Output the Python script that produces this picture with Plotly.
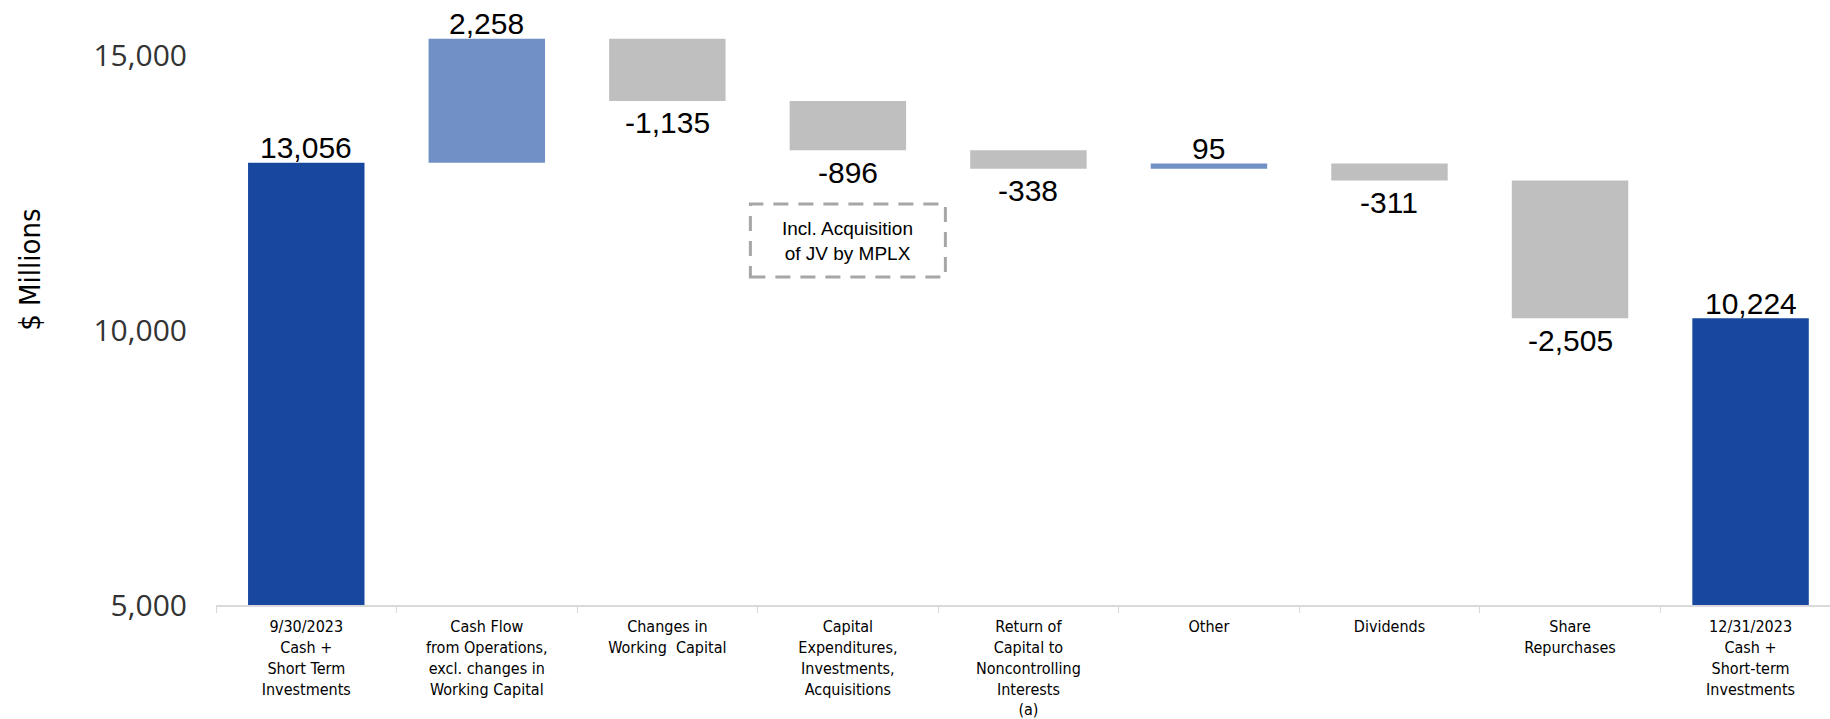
import plotly.graph_objects as go

# Cash bridge, Q4 2023 ($ millions)
categories = [
    "9/30/2023<br>Cash +<br>Short Term<br>Investments",
    "Cash Flow<br>from Operations,<br>excl. changes in<br>Working Capital",
    "Changes in<br>Working  Capital",
    "Capital<br>Expenditures,<br>Investments,<br>Acquisitions",
    "Return of<br>Capital to<br>Noncontrolling<br>Interests<br>(a)",
    "Other",
    "Dividends",
    "Share<br>Repurchases",
    "12/31/2023<br>Cash +<br>Short-term<br>Investments",
]
values = [13056, 2258, -1135, -896, -338, 95, -311, -2505, 10224]
measures = ["absolute", "relative", "relative", "relative", "relative",
            "relative", "relative", "relative", "total"]
value_labels = ["13,056", "2,258", "-1,135", "-896", "-338", "95", "-311", "-2,505", "10,224"]

TOTAL_BLUE = "#17479E"
UP_BLUE = "#7191C6"
DOWN_GREY = "#BFBFBF"

fig = go.Figure(go.Waterfall(
    x=categories,
    y=values,
    measure=measures,
    connector=dict(visible=False),
    increasing=dict(marker=dict(color=UP_BLUE)),
    decreasing=dict(marker=dict(color=DOWN_GREY)),
    totals=dict(marker=dict(color=TOTAL_BLUE)),
    hoverinfo="skip",
))

# value labels: above the top for totals / increases, below the bottom for decreases
annotations = []
running = 0
for cat, val, meas, lab in zip(categories, values, measures, value_labels):
    if meas == "absolute":
        start, end = 0, val
        running = val
    elif meas == "total":
        start, end = 0, running
    else:
        start, end = running, running + val
        running = end
    top, bottom = max(start, end), min(start, end)
    if meas == "relative" and val < 0:
        y, shift = bottom, -22
    else:
        y, shift = top, 15
    annotations.append(dict(
        x=cat, y=y, xref="x", yref="y", text=lab, showarrow=False,
        yanchor="middle", yshift=shift,
        font=dict(family="Liberation Sans, Arial", size=30, color="#000000"),
    ))

# note next to the capital expenditures bar
annotations.append(dict(
    x=categories[3], y=11637, xref="x", yref="y",
    text="Incl. Acquisition<br>of JV by MPLX", showarrow=False,
    font=dict(family="Liberation Sans, Arial", size=19, color="#000000"),
))

# axis title
annotations.append(dict(
    x=0, y=0.555, xref="paper", yref="paper", xshift=-186,
    text="$ Millions", showarrow=False, textangle=-90,
    xanchor="center", yanchor="middle",
    font=dict(family="DejaVu Sans Condensed, Liberation Sans Narrow, sans-serif",
              size=29, color="#000000"),
))

fig.update_layout(
    width=1830, height=719,
    margin=dict(l=216, r=0, t=1, b=114),
    paper_bgcolor="white", plot_bgcolor="white",
    showlegend=False,
    waterfallgap=0.355,
    annotations=annotations,
    shapes=[dict(
        type="rect", xref="x", yref="y",
        x0=2.46, x1=3.54, y0=10972, y1=12302,
        line=dict(color="#A6A6A6", width=3, dash="15px,10px"),
        fillcolor="rgba(0,0,0,0)",
    )],
    xaxis=dict(
        type="category",
        range=[-0.5, 8.44],
        automargin=False,
        showline=True, linecolor="#D9D9D9", linewidth=2,
        ticks="outside", tickson="boundaries", ticklen=6, tickcolor="#D9D9D9", tickwidth=1,
        ticklabelstandoff=6,
        showgrid=False,
        tickfont=dict(family="DejaVu Sans Condensed, Liberation Sans Narrow, sans-serif",
                      size=16, color="#000000"),
    ),
    yaxis=dict(
        range=[5000, 16000],
        automargin=False,
        tickvals=[5000, 10000, 15000],
        tickformat=",",
        showgrid=False, zeroline=False, showline=False,
        ticklabelstandoff=28,
        tickfont=dict(family="Open Sans, Liberation Sans, sans-serif",
                      size=30, color="#333333"),
    ),
)

fig.write_html("out.html")
